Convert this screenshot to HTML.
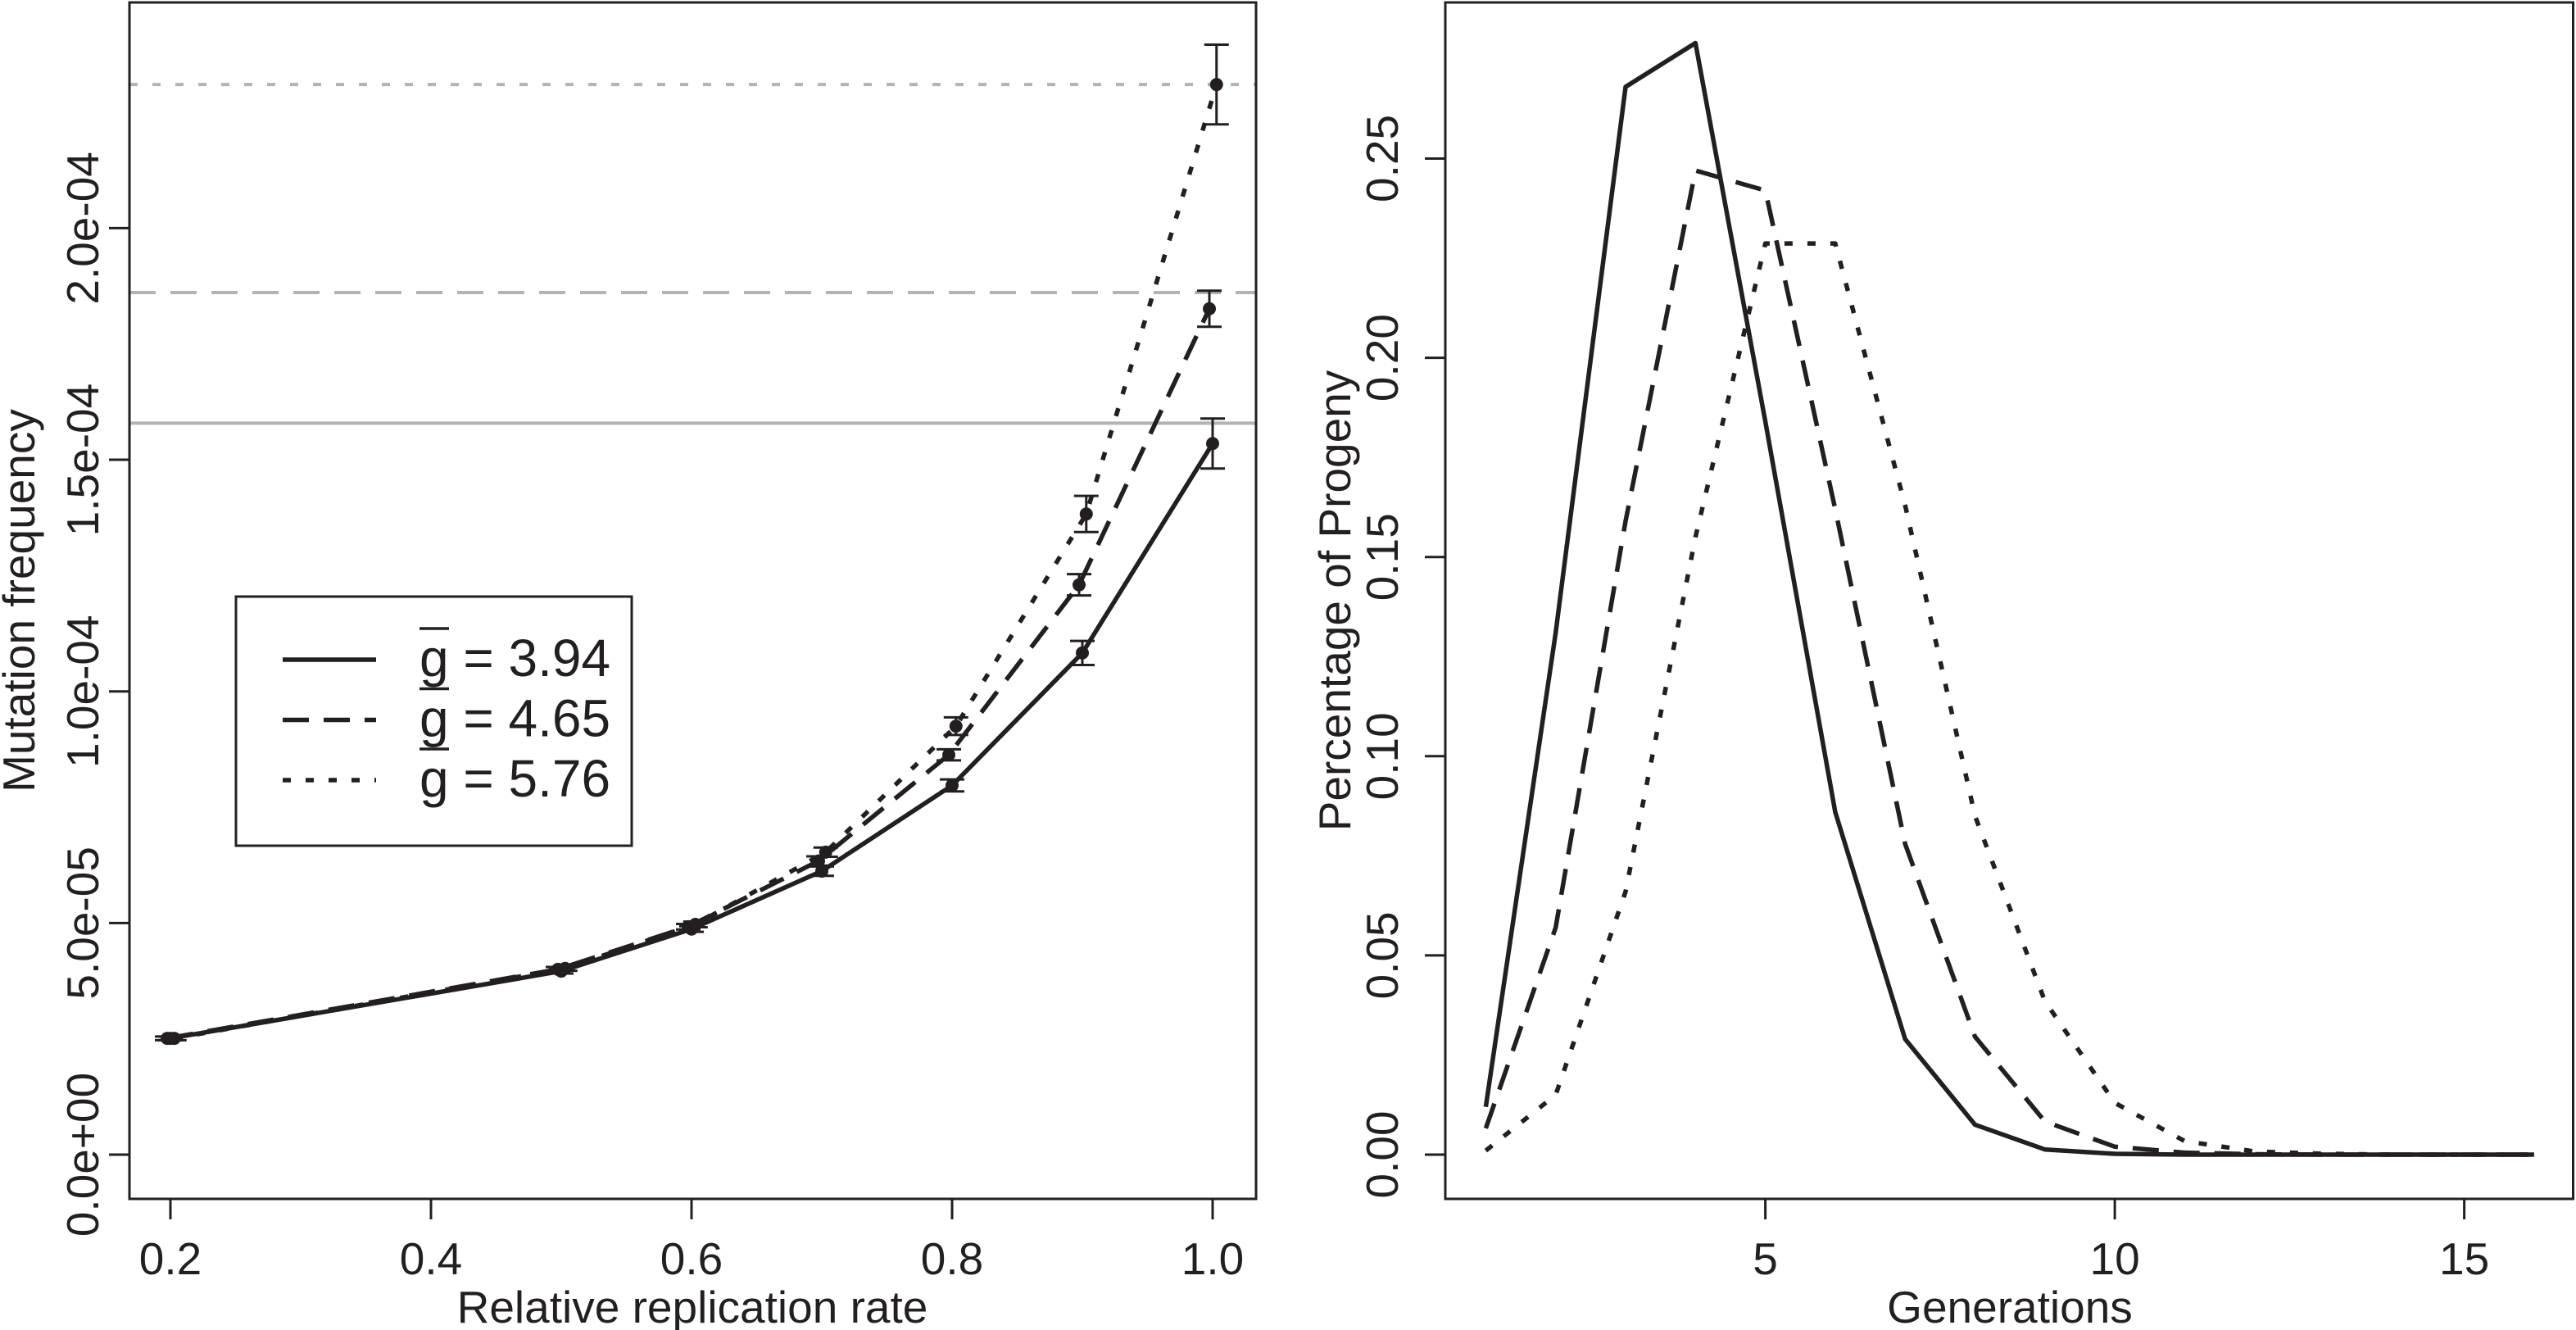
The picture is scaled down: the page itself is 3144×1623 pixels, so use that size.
<!DOCTYPE html>
<html><head><meta charset="utf-8"><style>
html,body{margin:0;padding:0;background:#fff;}
svg{display:block;}
text{font-family:"Liberation Sans",Arial,sans-serif;fill:#231f20;}
</style></head><body>
<svg id="fig" width="3144" height="1623" viewBox="0 0 3144 1623" xmlns="http://www.w3.org/2000/svg">
<g id="left"></g>
<g id="right"></g>
</svg>
<script>
// ---- Left chart data ----
const leftXTicks = [0.2, 0.4, 0.6, 0.8, 1.0];
const leftXTickLabels = ["0.2", "0.4", "0.6", "0.8", "1.0"];
const leftYTicks = [0, 5e-5, 1e-4, 1.5e-4, 2e-4];
const leftYTickLabels = ["0.0e+00", "5.0e-05", "1.0e-04", "1.5e-04", "2.0e-04"];
const solidX = [0.2, 0.5, 0.6, 0.7, 0.8, 0.9, 1.0];
const solidY = [2.51e-5, 3.96e-5, 4.87e-5, 6.12e-5, 7.97e-5, 1.083e-4, 1.535e-4];
const solidErr = [0.4e-6, 0.5e-6, 0.6e-6, 1.0e-6, 1.3e-6, 2.6e-6, 5.4e-6];
const dashedX = [0.1975, 0.4975, 0.5975, 0.6975, 0.7975, 0.8975, 0.9975];
const dashedY = [2.51e-5, 4.0e-5, 4.92e-5, 6.34e-5, 8.63e-5, 1.23e-4, 1.826e-4];
const dashedErr = [0.4e-6, 0.5e-6, 0.6e-6, 1.0e-6, 1.2e-6, 2.3e-6, 3.9e-6];
const dottedX = [0.203, 0.503, 0.603, 0.703, 0.803, 0.903, 1.003];
const dottedY = [2.51e-5, 4.02e-5, 4.97e-5, 6.53e-5, 9.25e-5, 1.383e-4, 2.31e-4];
const dottedErr = [0.4e-6, 0.5e-6, 0.6e-6, 1.0e-6, 1.9e-6, 3.9e-6, 8.6e-6];
const refLevels = [1.579e-4, 1.861e-4, 2.31e-4];
const legendLabels = ["3.94", "4.65", "5.76"];
// ---- Right chart data ----
const generations = [1,2,3,4,5,6,7,8,9,10,11,12,13,14,15,16];
const progSolid = [0.012,0.131,0.268,0.279,0.184,0.086,0.029,0.0075,0.0013,0.0002,0,0,0,0,0,0];
const progDashed = [0.0066,0.057,0.159,0.247,0.242,0.162,0.078,0.0296,0.0083,0.002,0.0005,0.0001,0,0,0,0];
const progDotted = [0.001,0.015,0.066,0.155,0.2287,0.2287,0.163,0.085,0.0385,0.013,0.0034,0.0008,0.0002,0,0,0];
const rightXTicks = [5, 10, 15];
const rightXTickLabels = ["5", "10", "15"];
const rightYTicks = [0, 0.05, 0.10, 0.15, 0.20, 0.25];
const rightYTickLabels = ["0.00", "0.05", "0.10", "0.15", "0.20", "0.25"];

const NS = "http://www.w3.org/2000/svg";
function mk(parent, tag, attrs, txt){
  const e = document.createElementNS(NS, tag);
  for (const k in attrs) e.setAttribute(k, attrs[k]);
  if (txt !== undefined) e.textContent = txt;
  parent.appendChild(e);
  return e;
}
const INK = "#231f20";
const dashStyles = ["", "32 18", "10 18"];

const L = {x0:158, x1:1533, y0:3, y1:1463};
const lx = v => 208 + (v - 0.2) * (1480 - 208) / 0.8;
const ly = v => 1409 - v * (1409 - 278.4) / 2e-4;
const left = document.getElementById('left');

refLevels.forEach((v, i) => {
  const r = mk(left, 'line', {x1:L.x0, x2:L.x1, y1:ly(v), y2:ly(v), stroke:"#b3b3b3", "stroke-width":4, "stroke-dasharray":dashStyles[i]});
  
  
});

function series(parent, xs, ys, xf, yf, dash, name){
  const pts = xs.map((x, i) => xf(x).toFixed(1) + "," + yf(ys[i]).toFixed(1)).join(" ");
  const p = mk(parent, 'polyline', {points:pts, fill:"none", stroke:INK, "stroke-width":5.5, "stroke-dasharray":dash, "stroke-linejoin":"round"});
  
  
}
const lSeries = [[solidX, solidY, solidErr], [dashedX, dashedY, dashedErr], [dottedX, dottedY, dottedErr]];
lSeries.forEach((s, si) => {
  series(left, s[0], s[1], lx, ly, dashStyles[si], 'series-line-' + (si+1));
  s[0].forEach((x, i) => {
    const cx = lx(x), cy = ly(s[1][i]);
    const e = s[2][i];
    const g = mk(left, 'g', {});
    
    
    mk(g, 'line', {x1:cx, x2:cx, y1:ly(s[1][i]+e), y2:ly(s[1][i]-e), stroke:INK, "stroke-width":3});
    mk(g, 'line', {x1:cx-15, x2:cx+15, y1:ly(s[1][i]+e), y2:ly(s[1][i]+e), stroke:INK, "stroke-width":3});
    mk(g, 'line', {x1:cx-15, x2:cx+15, y1:ly(s[1][i]-e), y2:ly(s[1][i]-e), stroke:INK, "stroke-width":3});
    const c = mk(left, 'circle', {cx:cx, cy:cy, r:8, fill:INK});
    
    
  });
});

const lf = mk(left, 'rect', {x:L.x0, y:L.y0, width:L.x1-L.x0, height:L.y1-L.y0, fill:"none", stroke:INK, "stroke-width":3});


leftXTicks.forEach((v, i) => {
  mk(left, 'line', {x1:lx(v), x2:lx(v), y1:L.y1, y2:L.y1+25, stroke:INK, "stroke-width":3});
  const t = mk(left, 'text', {x:lx(v), y:1555, "font-size":55, "text-anchor":"middle"}, leftXTickLabels[i]);
  
  
});
leftYTicks.forEach((v, i) => {
  mk(left, 'line', {x1:L.x0-25, x2:L.x0, y1:ly(v), y2:ly(v), stroke:INK, "stroke-width":3});
  const t = mk(left, 'text', {x:0, y:0, "font-size":55, "text-anchor":"middle", transform:`translate(120,${ly(v)}) rotate(-90)`}, leftYTickLabels[i]);
  
  
});
const lxt = mk(left, 'text', {x:845, y:1614, "font-size":55, "text-anchor":"middle"}, "Relative replication rate");


const lyt = mk(left, 'text', {x:0, y:0, "font-size":55, "text-anchor":"middle", transform:"translate(42,733) rotate(-90)"}, "Mutation frequency");



const lg = mk(left, 'g', {});


mk(lg, 'rect', {x:288, y:728, width:483, height:304, fill:"#fff", stroke:INK, "stroke-width":3});
legendLabels.forEach((lab, i) => {
  const y = 805 + i * 73.5;
  const ent = mk(lg, 'g', {});
  
  
  mk(ent, 'line', {x1:345, x2:459, y1:y, y2:y, stroke:INK, "stroke-width":5.5, "stroke-dasharray":dashStyles[i]});
  mk(ent, 'line', {x1:512, x2:548, y1:y-38, y2:y-38, stroke:INK, "stroke-width":3.5});
  mk(ent, 'text', {x:512, y:y+20, "font-size":64}, "g = " + lab);
});

const R = {x0:1764, x1:3142, y0:3, y1:1463};
const rx = g => 1813.4 + (g - 1) * 85.3;
const ry = v => 1409 - v * 243.1 / 0.05;
const right = document.getElementById('right');
[progSolid, progDashed, progDotted].forEach((s, si) => {
  series(right, generations, s, rx, ry, dashStyles[si], 'progeny-line-' + (si+1));
});
const rf = mk(right, 'rect', {x:R.x0, y:R.y0, width:R.x1-R.x0-1.5, height:R.y1-R.y0, fill:"none", stroke:INK, "stroke-width":3});


rightXTicks.forEach((v, i) => {
  mk(right, 'line', {x1:rx(v), x2:rx(v), y1:R.y1, y2:R.y1+25, stroke:INK, "stroke-width":3});
  const t = mk(right, 'text', {x:rx(v), y:1555, "font-size":55, "text-anchor":"middle"}, rightXTickLabels[i]);
  
  
});
rightYTicks.forEach((v, i) => {
  mk(right, 'line', {x1:R.x0-25, x2:R.x0, y1:ry(v), y2:ry(v), stroke:INK, "stroke-width":3});
  const t = mk(right, 'text', {x:0, y:0, "font-size":55, "text-anchor":"middle", transform:`translate(1706,${ry(v)}) rotate(-90)`}, rightYTickLabels[i]);
  
  
});
const rxt = mk(right, 'text', {x:2453, y:1614, "font-size":55, "text-anchor":"middle"}, "Generations");


const ryt = mk(right, 'text', {x:0, y:0, "font-size":55, "text-anchor":"middle", transform:"translate(1648,733) rotate(-90)"}, "Percentage of Progeny");


</script>
</body></html>
